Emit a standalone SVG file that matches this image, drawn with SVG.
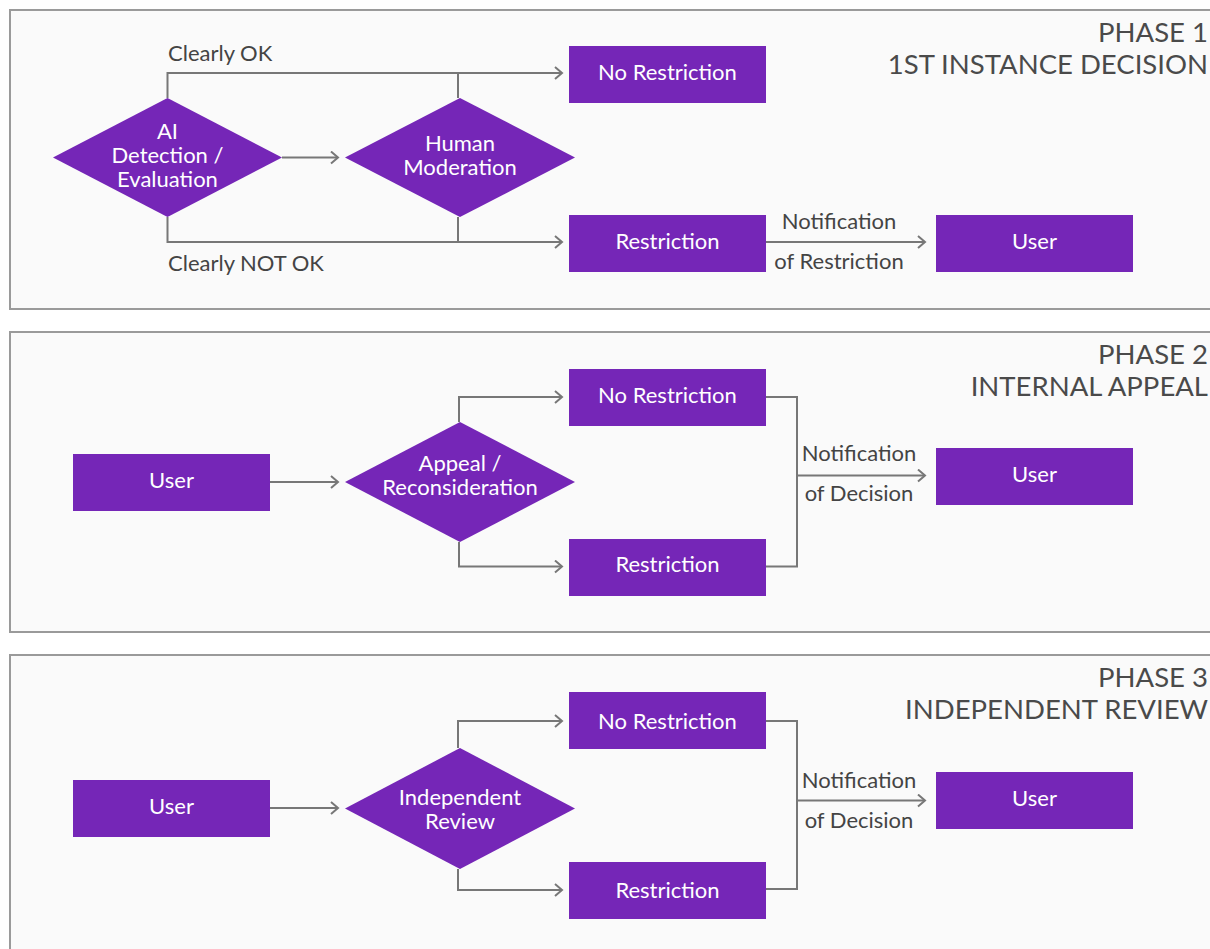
<svg xmlns="http://www.w3.org/2000/svg" width="1210" height="949" viewBox="0 0 1210 949">
<defs>
<style>
.frame{fill:#fafafa;stroke:#9a9a9a;stroke-width:2}
.box{fill:#7526b7}
.dia{fill:#7526b7}
.wt{fill:#ffffff;font-family:Lato,"Open Sans",sans-serif;font-size:22px;text-anchor:middle}
.lbl{fill:#444444;font-family:Lato,"Open Sans",sans-serif;font-size:22px}
.hd{fill:#4a4a4a;font-family:Lato,"Open Sans",sans-serif;font-size:27.5px;text-anchor:end}
.con{fill:none;stroke:#777777;stroke-width:2}
.arr{marker-end:url(#ah)}
</style>
<marker id="ah" markerUnits="userSpaceOnUse" markerWidth="12" markerHeight="14" refX="9" refY="7" orient="auto">
<path d="M2,1 L9,7 L2,13" fill="none" stroke="#777777" stroke-width="2"/>
</marker>
</defs>

<g id="frames">
<rect class="frame" x="10" y="10" width="1215" height="299"/>
<rect class="frame" x="10" y="332" width="1215" height="300"/>
<rect class="frame" x="10" y="655" width="1215" height="310"/>
</g>

<g id="headings">
<text class="hd" x="1208" y="42">PHASE 1</text>
<text class="hd" x="1208" y="74">1ST INSTANCE DECISION</text>
<text class="hd" x="1208" y="364">PHASE 2</text>
<text class="hd" x="1208" y="396">INTERNAL APPEAL</text>
<text class="hd" x="1208" y="687">PHASE 3</text>
<text class="hd" x="1208" y="719">INDEPENDENT REVIEW</text>
</g>

<g id="connectors">
<!-- phase 1 -->
<path class="con arr" d="M282,157.5 L338,157.5"/>
<path class="con arr" d="M167.5,98 L167.5,73 L562,73"/>
<path class="con" d="M458,98 L458,73"/>
<path class="con arr" d="M167.5,217 L167.5,242 L562,242"/>
<path class="con" d="M458,217 L458,242"/>
<path class="con arr" d="M766,242 L925,242"/>
<!-- phase 2 -->
<path class="con arr" d="M270,482 L338,482"/>
<path class="con arr" d="M459,422 L459,397 L562,397"/>
<path class="con arr" d="M459,542 L459,566.5 L562,566.5"/>
<path class="con" d="M766,397 L797,397 L797,566.5 L766,566.5"/>
<path class="con arr" d="M797,475.5 L925,475.5"/>
<!-- phase 3 -->
<path class="con arr" d="M270,808 L338,808"/>
<path class="con arr" d="M458,748 L458,721 L562,721"/>
<path class="con arr" d="M458,869 L458,890 L562,890"/>
<path class="con" d="M766,721 L797,721 L797,889 L766,889"/>
<path class="con arr" d="M797,800.5 L925,800.5"/>
</g>

<g id="connector-labels">
<text class="lbl" x="168" y="61">Clearly OK</text>
<text class="lbl" x="168" y="271">Clearly NOT OK</text>
<text class="lbl" x="839" y="229" text-anchor="middle">Notification</text>
<text class="lbl" x="839" y="269" text-anchor="middle">of Restriction</text>
<text class="lbl" x="859" y="461" text-anchor="middle">Notification</text>
<text class="lbl" x="859" y="501" text-anchor="middle">of Decision</text>
<text class="lbl" x="859" y="788" text-anchor="middle">Notification</text>
<text class="lbl" x="859" y="828" text-anchor="middle">of Decision</text>
</g>

<!-- Phase 1 nodes -->
<g id="ai-detection">
<polygon class="dia" points="53,157.5 167.5,98 282,157.5 167.5,217"/>
<text class="wt" x="167.5" y="139">AI</text>
<text class="wt" x="167.5" y="163">Detection /</text>
<text class="wt" x="167.5" y="187">Evaluation</text>
</g>
<g id="human-moderation">
<polygon class="dia" points="345,157.5 460,98 575,157.5 460,217"/>
<text class="wt" x="460" y="151">Human</text>
<text class="wt" x="460" y="175">Moderation</text>
</g>
<g id="p1-no-restriction">
<rect class="box" x="569" y="46" width="197" height="57"/>
<text class="wt" x="667.5" y="80">No Restriction</text>
</g>
<g id="p1-restriction">
<rect class="box" x="569" y="215" width="197" height="57"/>
<text class="wt" x="667.5" y="249">Restriction</text>
</g>
<g id="p1-user">
<rect class="box" x="936" y="215" width="197" height="57"/>
<text class="wt" x="1034.5" y="249">User</text>
</g>

<!-- Phase 2 nodes -->
<g id="p2-user-in">
<rect class="box" x="73" y="454" width="197" height="57"/>
<text class="wt" x="171.5" y="488">User</text>
</g>
<g id="appeal">
<polygon class="dia" points="345,482 460,422 575,482 460,542"/>
<text class="wt" x="460" y="471">Appeal /</text>
<text class="wt" x="460" y="495">Reconsideration</text>
</g>
<g id="p2-no-restriction">
<rect class="box" x="569" y="369" width="197" height="57"/>
<text class="wt" x="667.5" y="403">No Restriction</text>
</g>
<g id="p2-restriction">
<rect class="box" x="569" y="539" width="197" height="57"/>
<text class="wt" x="667.5" y="572">Restriction</text>
</g>
<g id="p2-user-out">
<rect class="box" x="936" y="448" width="197" height="57"/>
<text class="wt" x="1034.5" y="482">User</text>
</g>

<!-- Phase 3 nodes -->
<g id="p3-user-in">
<rect class="box" x="73" y="780" width="197" height="57"/>
<text class="wt" x="171.5" y="814">User</text>
</g>
<g id="independent-review">
<polygon class="dia" points="345,808.5 460,748 575,808.5 460,869"/>
<text class="wt" x="460" y="805">Independent</text>
<text class="wt" x="460" y="829">Review</text>
</g>
<g id="p3-no-restriction">
<rect class="box" x="569" y="692" width="197" height="57"/>
<text class="wt" x="667.5" y="729">No Restriction</text>
</g>
<g id="p3-restriction">
<rect class="box" x="569" y="862" width="197" height="57"/>
<text class="wt" x="667.5" y="898">Restriction</text>
</g>
<g id="p3-user-out">
<rect class="box" x="936" y="772" width="197" height="57"/>
<text class="wt" x="1034.5" y="806">User</text>
</g>
</svg>
